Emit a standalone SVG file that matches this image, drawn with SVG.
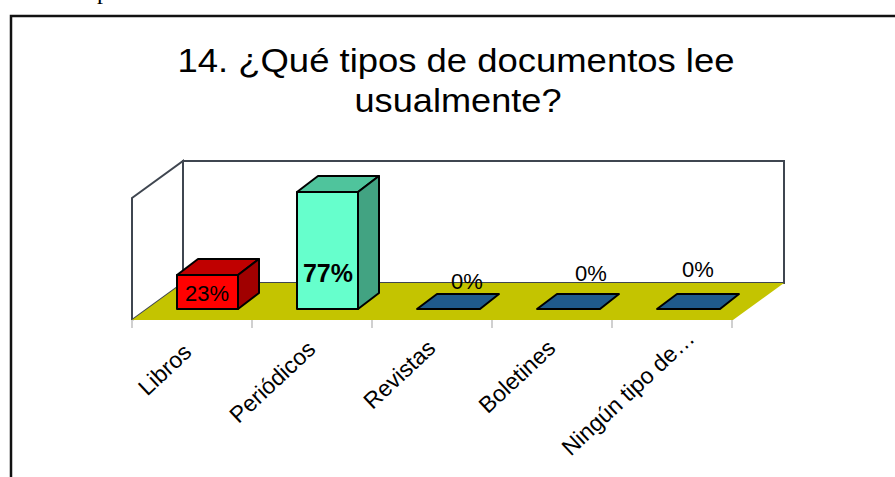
<svg xmlns="http://www.w3.org/2000/svg" width="895" height="477" viewBox="0 0 895 477">
<style>
  text { font-family: "Liberation Sans", Arial, sans-serif; fill: #000; }
  .title { font-size: 33px; text-anchor: middle; }
  .cat { font-size: 23px; text-anchor: end; }
  .val { font-size: 22px; text-anchor: middle; }
  .bar { stroke: #000; stroke-width: 2; stroke-linejoin: round; }
  .wall { fill: #fff; stroke: #3f4650; stroke-width: 2; }
  .tick { stroke: #d0d0d0; stroke-width: 2; }
</style>
<rect width="895" height="477" fill="#fff"/>
<text x="97" y="-1" style="font-family:'Liberation Serif',serif;font-size:24px">p</text>
<path d="M11,477 V16 H895" fill="none" stroke="#111" stroke-width="2.5"/>
<g id="title">
  <text class="title" x="456" y="72" textLength="557" lengthAdjust="spacingAndGlyphs">14. ¿Qué tipos de documentos lee</text>
  <text class="title" x="458" y="112" textLength="207" lengthAdjust="spacingAndGlyphs">usualmente?</text>
</g>
<g id="plot-area">
  <polygon class="wall" points="183,161 784,161 784,283 183,283"/>
  <polygon class="wall" points="132,198 183,161 183,283 132,320"/>
  <polygon fill="#c4c400" points="132,320 183,283 784,283 733,320"/>
  <g id="ticks">
    <line class="tick" x1="132" y1="320" x2="132" y2="328"/>
    <line class="tick" x1="252" y1="320" x2="252" y2="328"/>
    <line class="tick" x1="372" y1="320" x2="372" y2="328"/>
    <line class="tick" x1="492" y1="320" x2="492" y2="328"/>
    <line class="tick" x1="612" y1="320" x2="612" y2="328"/>
    <line class="tick" x1="732" y1="320" x2="732" y2="328"/>
  </g>
</g>
<g id="bar-libros">
  <polygon class="bar" fill="#c00000" points="177,275 198,259 259,259 238,275"/>
  <polygon class="bar" fill="#a00000" points="238,275 259,259 259,293 238,309"/>
  <rect class="bar" fill="#ff0000" x="177" y="275" width="61" height="34"/>
  <text class="val" x="207" y="301">23%</text>
</g>
<g id="bar-periodicos">
  <polygon class="bar" fill="#4fc49c" points="297,192 318,176 379,176 358,192"/>
  <polygon class="bar" fill="#42a382" points="358,192 379,176 379,293 358,309"/>
  <rect class="bar" fill="#66ffcc" x="297" y="192" width="61" height="117"/>
  <text class="val" x="328" y="282" style="font-weight:bold;font-size:25px">77%</text>
</g>
<g id="bar-revistas">
  <polygon class="bar" fill="#1f5a8c" points="417,309 480,309 499,294 437,294"/>
  <text class="val" x="467" y="289">0%</text>
</g>
<g id="bar-boletines">
  <polygon class="bar" fill="#1f5a8c" points="537,309 600,309 619,294 557,294"/>
  <text class="val" x="591" y="281">0%</text>
</g>
<g id="bar-ningun">
  <polygon class="bar" fill="#1f5a8c" points="657,309 720,309 739,294 677,294"/>
  <text class="val" x="698" y="277">0%</text>
</g>
<g id="categories">
  <text class="cat" transform="translate(193,354) rotate(-43)">Libros</text>
  <text class="cat" transform="translate(317,351) rotate(-43)">Periódicos</text>
  <text class="cat" transform="translate(437,350) rotate(-43)">Revistas</text>
  <text class="cat" transform="translate(557,350) rotate(-43)">Boletines</text>
  <text class="cat" transform="translate(696,340) rotate(-43)">Ningún tipo de…</text>
</g>
</svg>
